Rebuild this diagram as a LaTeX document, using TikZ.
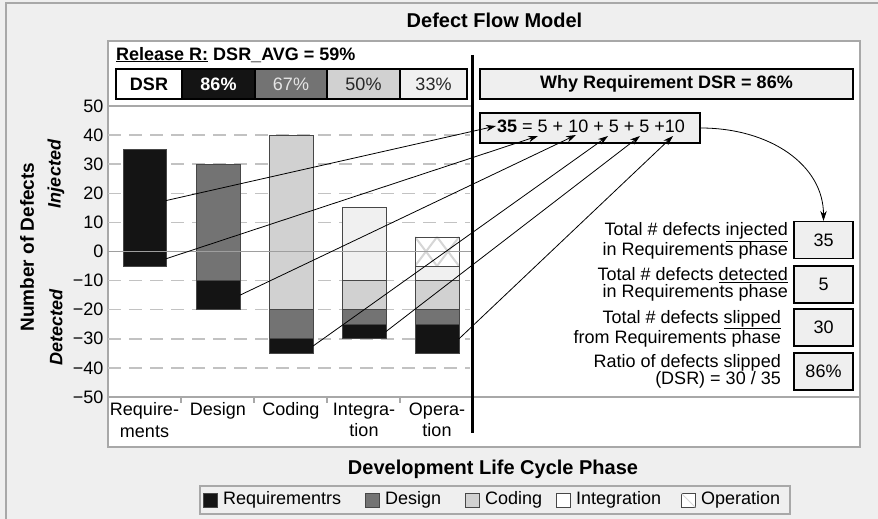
\documentclass[tikz,border=0pt]{standalone}
\usepackage{fontspec}
\setmainfont{Liberation Sans}
\usetikzlibrary{arrows.meta}

\definecolor{bggray}{gray}{0.937}
\definecolor{framegray}{gray}{0.66}
\definecolor{gridgray}{gray}{0.76}
\definecolor{zerogray}{gray}{0.62}
\definecolor{segedge}{gray}{0.28}
\definecolor{cReq}{gray}{0.08}
\definecolor{cDes}{gray}{0.45}
\definecolor{cCod}{gray}{0.82}
\definecolor{cInt}{gray}{0.94}
\definecolor{hatchgray}{gray}{0.84}

% one stacked bar segment: x-left, top value, x-right, bottom value, fill
\newcommand{\barseg}[5]{\filldraw[fill=#5, draw=segedge, line width=0.8pt] (#1,#2) rectangle (#3,#4);}

\begin{document}
\begin{tikzpicture}[x=1pt,y=-1pt,
  lbl/.style={inner sep=0pt, font=\fontsize{18}{17.3}\selectfont},
  boldlbl/.style={inner sep=0pt, font=\fontsize{18}{18}\selectfont\bfseries},
  cell/.style={draw=black, line width=1.2pt, minimum height=30pt, inner sep=0pt, font=\fontsize{18}{18}\selectfont},
  valbox/.style={draw=black, line width=1.2pt, fill=bggray, minimum width=59pt, minimum height=37pt, inner sep=0pt, font=\fontsize{18}{18}\selectfont},
  conn/.style={line width=0.8pt, -{Stealth[length=10pt,width=6.5pt]}},
  gridline/.style={gridgray, line width=1.5pt, dash pattern=on 13pt off 8pt},
  xlbl/.style={inner sep=0pt, align=center, anchor=north, font=\fontsize{18}{21.5}\selectfont},
  legsq/.style={draw=segedge, line width=0.8pt, minimum size=14pt, inner sep=0pt},
  legtxt/.style={inner sep=0pt, anchor=west, font=\fontsize{18}{18}\selectfont},
]
\useasboundingbox (0,0) rectangle (878,519);
\fill[bggray] (0,0) rectangle (878,519);
\draw[framegray, line width=1.2pt] (6,519) -- (6,3) -- (878,3);

% title
\node[inner sep=0pt, font=\fontsize{20}{20}\selectfont\bfseries, anchor=base] (title) at (494.5,28) {Defect Flow Model};

% white panel and chart frame
\draw[framegray, line width=1.2pt, fill=white] (108,41) rectangle (860,447);
\draw[framegray, line width=1.2pt] (108,106) -- (472,106);

% release header and DSR row
\node[boldlbl, anchor=base west] (release) at (116,60) {\underline{Release R:} DSR\_AVG = 59\%};
\node[cell, fill=white, minimum width=66pt] (dsr) at (149,84) {\bfseries DSR};
\node[cell, fill=cReq, minimum width=73pt, text=white] (d86) at (218.5,84) {\bfseries 86\%};
\node[cell, fill=cDes, minimum width=72pt, text=white!90!black] (d67) at (291,84) {67\%};
\node[cell, fill=cCod, minimum width=73pt, text=black!85] (d50) at (363.5,84) {50\%};
\node[cell, fill=cInt, minimum width=67pt, text=black!85] (d33) at (433.5,84) {33\%};

% chart: values on the y axis, pixels on the x axis
\begin{scope}[shift={(0,251.5)}, y=2.91pt]
  \foreach \v in {40,30,20,10,-10,-20,-30,-40}
    \draw[gridline] (108,\v) -- (470,\v);
  \foreach \v/\t in {50/50,40/40,30/30,20/20,10/10,0/0,-10/−10,-20/−20,-30/−30,-40/−40,-50/−50}
    \node[lbl, anchor=east] (tick\v) at (103.5,\v) {\t};

  % Requirements
  \barseg{123}{35}{166}{-5}{cReq}
  % Design
  \barseg{196}{30}{240}{-10}{cDes}
  \barseg{196}{-10}{240}{-20}{cReq}
  % Coding
  \barseg{269}{40}{313}{-20}{cCod}
  \barseg{269}{-20}{313}{-30}{cDes}
  \barseg{269}{-30}{313}{-35}{cReq}
  % Integration
  \barseg{342}{15}{386}{-10}{cInt}
  \barseg{342}{-10}{386}{-20}{cCod}
  \barseg{342}{-20}{386}{-25}{cDes}
  \barseg{342}{-25}{386}{-30}{cReq}
  % Operation
  \fill[white] (415,5) rectangle (459,-5);
  \begin{scope}
    \clip (415,5) rectangle (459,-5);
    \draw[hatchgray, line width=2pt] (415,5) -- (437,-5) (415,-5) -- (437,5)
      (437,5) -- (459,-5) (437,-5) -- (459,5);
  \end{scope}
  \draw[segedge, line width=0.8pt] (415,5) rectangle (459,-5);
  \barseg{415}{-5}{459}{-10}{cInt}
  \barseg{415}{-10}{459}{-20}{cCod}
  \barseg{415}{-20}{459}{-25}{cDes}
  \barseg{415}{-25}{459}{-35}{cReq}

  % zero line over the bars
  \draw[zerogray, line width=1.5pt] (108,0) -- (472,0);

  % where the flow lines leave the bars
  \coordinate (s0) at (166,17.5);
  \coordinate (s1) at (166,-2.5);
  \coordinate (s2) at (240,-15);
  \coordinate (s3) at (313,-32.5);
  \coordinate (s4) at (386,-27.5);
  \coordinate (s5) at (459,-30);
\end{scope}

% x axis
\draw[framegray, line width=1.2pt] (108,397) -- (860,397);
\foreach \x in {181,254,327,400}
  \draw[framegray, line width=1.2pt] (\x,397) -- (\x,403);
\node[xlbl] (xreq) at (144.5,402.5) {Require-\\ments};
\node[xlbl] (xdes) at (218,402.5) {Design};
\node[xlbl] (xcod) at (291,402.5) {Coding};
\node[xlbl] (xint) at (364,402.5) {Integra-\\tion};
\node[xlbl] (xope) at (437,402.5) {Opera-\\tion};

% axis titles
\node[inner sep=0pt, rotate=90, font=\fontsize{19}{19}\selectfont\bfseries] (ytitle) at (27,247) {Number of Defects};
\node[inner sep=0pt, rotate=90, font=\fontsize{18}{18}\selectfont\bfseries\itshape] (yinj) at (56,174) {Injected};
\node[inner sep=0pt, rotate=90, font=\fontsize{18}{18}\selectfont\bfseries\itshape] (ydet) at (56,327) {Detected};
\node[inner sep=0pt, font=\fontsize{20}{20}\selectfont\bfseries, anchor=base] (xtitle) at (493,474) {Development Life Cycle Phase};

% divider
\draw[line width=3.5pt] (472.5,55) -- (472.5,433);

% explanation side
\node[draw=black, line width=1.2pt, fill=bggray, minimum width=373pt, minimum height=30pt, boldlbl] (why) at (666.5,84) {Why Requirement DSR = 86\%};
\node[draw=black, line width=1.2pt, fill=bggray, minimum width=220pt, minimum height=30pt, inner sep=0pt] (sumbox) at (590,128) {};
\node[lbl, anchor=base west] (sum) at (497,132.5) {\textbf{35} = 5 + 10 + 5 + 5 +10};

\coordinate (t0) at (496,126);
\coordinate (t1) at (538,136);
\coordinate (t2) at (576,135);
\coordinate (t3) at (608,136);
\coordinate (t4) at (640,136);
\coordinate (t5) at (673,136);

\draw[conn] (s0) -- (t0);
\draw[conn] (s1) -- (t1);
\draw[conn] (s2) -- (t2);
\draw[conn] (s3) -- (t3);
\draw[conn] (s4) -- (t4);
\draw[conn] (s5) -- (t5);

\node[valbox] (v1) at (823.5,240) {35};
\node[valbox] (v2) at (823.5,284.5) {5};
\node[valbox] (v3) at (823.5,327.5) {30};
\node[valbox] (v4) at (823.5,371.5) {86\%};

\node[lbl, align=right, anchor=east] (l1) at (788,241) {Total \# defects \underline{injected}\\in Requirements phase};
\node[lbl, align=right, anchor=east] (l2) at (788,284.5) {Total \# defects \underline{detected}\\in Requirements phase};
\node[lbl, align=right, anchor=east] (l3) at (781,328.5) {Total \# defects \underline{slipped}\\from Requirements phase};
\node[lbl, align=right, anchor=east] (l4) at (781,371.5) {Ratio of defects slipped\\(DSR) = 30 / 35};

\draw[conn] (sumbox.east) .. controls (770,128) and (823.5,165) .. (v1.north);

% legend
\node[draw=framegray, line width=1.2pt, fill=bggray, minimum width=590pt, minimum height=28pt, inner sep=0pt] (legend) at (495,500) {};
\node[legsq, fill=cReq] (k1) at (210,500) {};
\node[legtxt] (k1t) at (223,500) {Requirementrs};
\node[legsq, fill=cDes] (k2) at (372,500) {};
\node[legtxt] (k2t) at (385,500) {Design};
\node[legsq, fill=cCod] (k3) at (472,500) {};
\node[legtxt] (k3t) at (485,500) {Coding};
\node[legsq, fill=white] (k4) at (563,500) {};
\node[legtxt] (k4t) at (576,500) {Integration};
\node[legsq, fill=white] (k5) at (688,500) {};
\draw[hatchgray, line width=1pt] (k5.north west) -- (k5.south east);
\node[legtxt] (k5t) at (701,500) {Operation};
\end{tikzpicture}
\end{document}
